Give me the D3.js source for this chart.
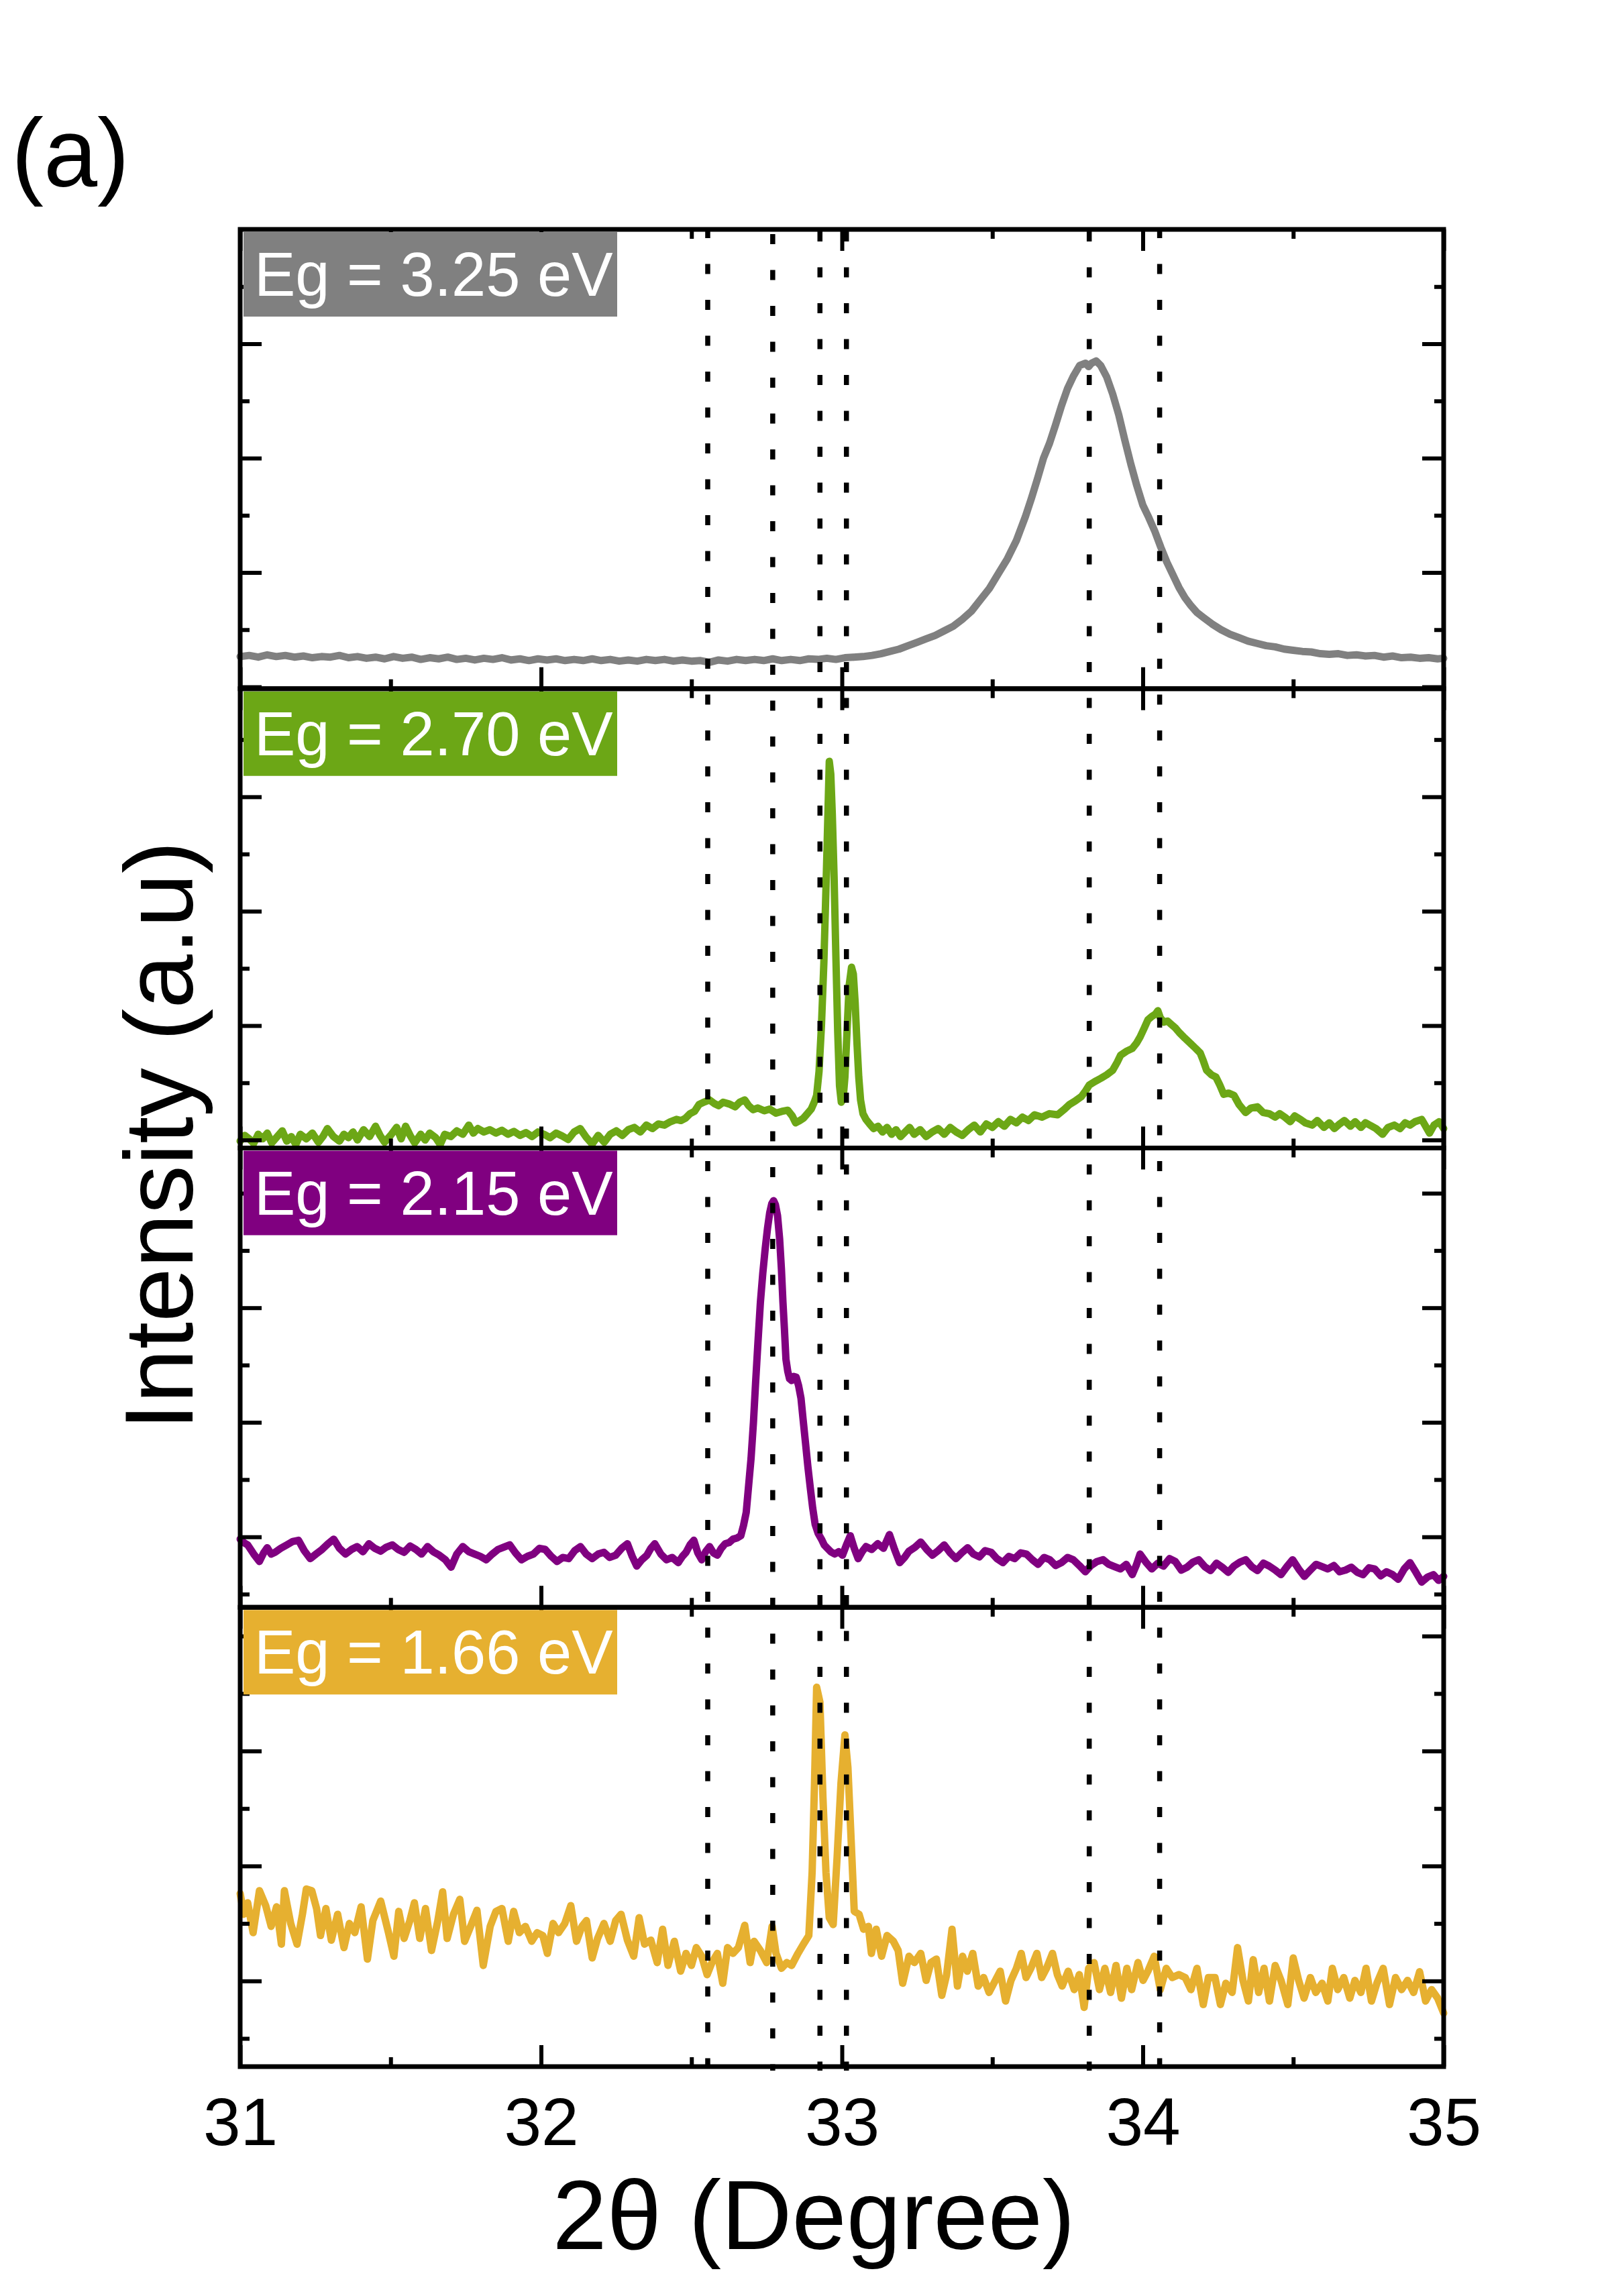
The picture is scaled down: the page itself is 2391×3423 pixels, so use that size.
<!DOCTYPE html>
<html>
<head>
<meta charset="utf-8">
<script src="https://cdn.jsdelivr.net/npm/d3@7"></script>
<style>
  body { margin: 0; background: #fff; }
</style>
</head>
<body>
<div id="chart"></div>
<script>
const W = 2391;
const H = 3423;
const plotLeft = 358, plotRight = 2152, plotTop = 342, plotBottom = 3081;

// panel labels and colours (top to bottom)
const labels = ['Eg = 3.25 eV', 'Eg = 2.70 eV', 'Eg = 2.15 eV', 'Eg = 1.66 eV'];
const colors = ['#808080', '#6ca716', '#800080', '#e6b030'];

// x axis
const xDomain = [31, 35];
const xLabels = [31, 32, 33, 34, 35];
const xMinor = [31.5, 32.5, 33.5, 34.5];

// reference peak positions (dotted lines), 2theta in degree
const refPeaks = [32.554, 32.770, 32.927, 33.015, 33.822, 34.056];

// intensity range of each panel (a.u.)
const yDomains = [[-0.032, 8.0], [-0.14, 7.89], [-1.23, 6.79], [-1.49, 6.5]];

// scans: [2theta, intensity a.u.]
const scan325 = [[31.00,0.53],[31.03,0.55],[31.06,0.52],[31.09,0.56],[31.12,0.53],[31.15,0.55],[31.18,0.52],[31.21,0.54],[31.24,0.51],[31.27,0.53],[31.30,0.52],[31.33,0.55],[31.36,0.51],[31.39,0.53],[31.42,0.50],[31.45,0.52],[31.48,0.49],[31.51,0.53],[31.54,0.50],[31.57,0.52],[31.60,0.48],[31.63,0.51],[31.66,0.49],[31.69,0.52],[31.72,0.48],[31.75,0.50],[31.78,0.47],[31.81,0.50],[31.84,0.48],[31.87,0.51],[31.90,0.47],[31.93,0.49],[31.96,0.46],[31.99,0.49],[32.02,0.47],[32.05,0.49],[32.08,0.46],[32.11,0.48],[32.14,0.46],[32.17,0.49],[32.20,0.46],[32.23,0.48],[32.26,0.45],[32.29,0.47],[32.32,0.45],[32.35,0.48],[32.38,0.46],[32.41,0.48],[32.44,0.45],[32.47,0.47],[32.50,0.45],[32.53,0.46],[32.56,0.43],[32.59,0.47],[32.62,0.45],[32.65,0.48],[32.68,0.46],[32.71,0.48],[32.74,0.46],[32.77,0.49],[32.80,0.46],[32.83,0.48],[32.86,0.46],[32.89,0.49],[32.92,0.48],[32.95,0.50],[32.98,0.48],[33.01,0.51],[33.04,0.52],[33.07,0.53],[33.10,0.55],[33.13,0.58],[33.16,0.62],[33.19,0.66],[33.22,0.72],[33.25,0.78],[33.28,0.84],[33.31,0.90],[33.34,0.98],[33.37,1.06],[33.40,1.18],[33.43,1.32],[33.46,1.52],[33.49,1.72],[33.52,1.98],[33.55,2.24],[33.58,2.56],[33.61,2.98],[33.63,3.30],[33.65,3.64],[33.67,4.00],[33.69,4.26],[33.71,4.58],[33.73,4.92],[33.75,5.22],[33.77,5.44],[33.79,5.62],[33.81,5.66],[33.82,5.60],[33.83,5.66],[33.845,5.70],[33.86,5.62],[33.88,5.42],[33.90,5.12],[33.92,4.76],[33.94,4.32],[33.96,3.90],[33.98,3.52],[34.00,3.18],[34.02,2.96],[34.04,2.72],[34.06,2.44],[34.08,2.18],[34.10,1.96],[34.12,1.74],[34.14,1.56],[34.16,1.42],[34.18,1.30],[34.20,1.22],[34.23,1.10],[34.26,1.00],[34.29,0.92],[34.32,0.86],[34.35,0.80],[34.38,0.76],[34.41,0.72],[34.44,0.70],[34.47,0.66],[34.50,0.64],[34.53,0.62],[34.56,0.61],[34.59,0.58],[34.62,0.57],[34.65,0.58],[34.68,0.55],[34.71,0.56],[34.74,0.54],[34.77,0.55],[34.80,0.52],[34.83,0.54],[34.86,0.51],[34.89,0.52],[34.92,0.50],[34.95,0.51],[34.98,0.49],[35.00,0.50]];

const scan270 = [[31.000,-0.02],[31.015,0.08],[31.030,0.02],[31.045,-0.06],[31.060,0.10],[31.075,0.02],[31.090,0.12],[31.105,-0.05],[31.120,0.04],[31.140,0.16],[31.155,-0.02],[31.170,0.06],[31.185,-0.08],[31.200,0.10],[31.220,0.02],[31.240,0.12],[31.260,-0.04],[31.275,0.06],[31.290,0.20],[31.310,0.06],[31.330,-0.02],[31.345,0.10],[31.360,0.04],[31.375,0.14],[31.390,0.00],[31.410,0.18],[31.430,0.06],[31.450,0.24],[31.465,0.08],[31.480,-0.04],[31.500,0.08],[31.520,0.22],[31.535,0.02],[31.550,0.24],[31.565,0.08],[31.580,-0.05],[31.600,0.10],[31.615,0.00],[31.630,0.12],[31.650,0.04],[31.665,-0.08],[31.680,0.10],[31.700,0.06],[31.720,0.16],[31.740,0.10],[31.760,0.26],[31.775,0.12],[31.790,0.20],[31.810,0.14],[31.830,0.18],[31.850,0.12],[31.870,0.17],[31.890,0.10],[31.910,0.15],[31.930,0.08],[31.950,0.13],[31.970,0.06],[31.990,0.14],[32.010,0.10],[32.030,0.04],[32.050,0.12],[32.070,0.07],[32.090,0.01],[32.110,0.14],[32.130,0.20],[32.150,0.05],[32.170,-0.07],[32.190,0.08],[32.210,-0.04],[32.230,0.10],[32.250,0.16],[32.270,0.08],[32.290,0.18],[32.310,0.22],[32.330,0.14],[32.350,0.26],[32.370,0.20],[32.390,0.28],[32.410,0.26],[32.430,0.32],[32.450,0.36],[32.465,0.34],[32.480,0.38],[32.495,0.46],[32.510,0.50],[32.525,0.62],[32.540,0.66],[32.560,0.70],[32.575,0.64],[32.590,0.60],[32.605,0.66],[32.625,0.63],[32.645,0.58],[32.660,0.66],[32.677,0.70],[32.690,0.60],[32.705,0.53],[32.720,0.56],[32.742,0.51],[32.760,0.54],[32.781,0.47],[32.800,0.50],[32.820,0.52],[32.835,0.42],[32.846,0.30],[32.860,0.34],[32.872,0.38],[32.885,0.46],[32.898,0.54],[32.908,0.66],[32.916,0.78],[32.924,1.20],[32.932,2.00],[32.940,3.10],[32.947,4.40],[32.953,5.60],[32.958,6.62],[32.963,6.40],[32.968,5.70],[32.974,4.60],[32.980,3.20],[32.986,1.90],[32.992,0.95],[32.998,0.66],[33.004,0.72],[33.010,1.10],[33.017,1.90],[33.024,2.70],[33.032,3.02],[33.038,2.90],[33.044,2.40],[33.050,1.70],[33.056,1.10],[33.062,0.70],[33.070,0.46],[33.080,0.36],[33.092,0.28],[33.105,0.20],[33.120,0.24],[33.135,0.14],[33.150,0.22],[33.165,0.10],[33.180,0.18],[33.195,0.06],[33.210,0.14],[33.225,0.22],[33.240,0.10],[33.260,0.18],[33.280,0.06],[33.300,0.14],[33.320,0.20],[33.340,0.10],[33.360,0.22],[33.380,0.14],[33.400,0.08],[33.420,0.18],[33.440,0.26],[33.460,0.14],[33.480,0.28],[33.500,0.22],[33.520,0.32],[33.540,0.24],[33.560,0.36],[33.580,0.30],[33.600,0.40],[33.620,0.34],[33.640,0.44],[33.665,0.40],[33.690,0.46],[33.717,0.44],[33.740,0.54],[33.756,0.62],[33.775,0.68],[33.796,0.76],[33.810,0.86],[33.822,0.96],[33.840,1.02],[33.861,1.08],[33.880,1.14],[33.900,1.22],[33.915,1.36],[33.926,1.48],[33.945,1.55],[33.965,1.60],[33.980,1.70],[33.991,1.80],[34.005,1.96],[34.017,2.10],[34.030,2.16],[34.042,2.20],[34.050,2.26],[34.058,2.14],[34.069,2.06],[34.082,2.08],[34.095,2.02],[34.108,1.96],[34.121,1.88],[34.140,1.78],[34.160,1.68],[34.176,1.60],[34.191,1.52],[34.200,1.40],[34.212,1.22],[34.228,1.14],[34.243,1.10],[34.256,0.96],[34.269,0.80],[34.285,0.82],[34.303,0.78],[34.320,0.62],[34.342,0.48],[34.360,0.56],[34.381,0.58],[34.400,0.48],[34.420,0.46],[34.440,0.40],[34.455,0.46],[34.472,0.40],[34.490,0.32],[34.505,0.42],[34.524,0.36],[34.540,0.30],[34.563,0.26],[34.580,0.34],[34.602,0.22],[34.620,0.30],[34.637,0.20],[34.654,0.28],[34.670,0.34],[34.690,0.24],[34.706,0.32],[34.725,0.22],[34.740,0.30],[34.758,0.25],[34.775,0.20],[34.797,0.10],[34.815,0.22],[34.836,0.26],[34.855,0.20],[34.872,0.30],[34.888,0.26],[34.905,0.32],[34.927,0.36],[34.940,0.24],[34.953,0.12],[34.968,0.26],[34.985,0.32],[35.000,0.20]];

const scan215 = [[31.000,-0.04],[31.012,-0.10],[31.025,-0.14],[31.045,-0.30],[31.064,-0.43],[31.078,-0.28],[31.090,-0.19],[31.103,-0.30],[31.116,-0.27],[31.135,-0.20],[31.155,-0.14],[31.175,-0.08],[31.194,-0.06],[31.213,-0.24],[31.233,-0.38],[31.252,-0.30],[31.272,-0.22],[31.292,-0.12],[31.311,-0.04],[31.330,-0.20],[31.350,-0.30],[31.370,-0.22],[31.389,-0.17],[31.408,-0.26],[31.428,-0.12],[31.447,-0.20],[31.467,-0.25],[31.486,-0.18],[31.506,-0.14],[31.525,-0.22],[31.545,-0.27],[31.565,-0.16],[31.584,-0.22],[31.603,-0.30],[31.623,-0.17],[31.642,-0.26],[31.662,-0.32],[31.682,-0.40],[31.701,-0.53],[31.720,-0.30],[31.740,-0.17],[31.760,-0.26],[31.779,-0.30],[31.798,-0.34],[31.818,-0.40],[31.838,-0.30],[31.857,-0.22],[31.876,-0.18],[31.896,-0.14],[31.915,-0.28],[31.935,-0.40],[31.955,-0.34],[31.975,-0.30],[31.995,-0.20],[32.014,-0.22],[32.034,-0.34],[32.053,-0.43],[32.072,-0.36],[32.092,-0.38],[32.112,-0.24],[32.131,-0.17],[32.150,-0.30],[32.170,-0.38],[32.190,-0.30],[32.209,-0.27],[32.228,-0.36],[32.248,-0.32],[32.268,-0.20],[32.287,-0.12],[32.303,-0.34],[32.318,-0.51],[32.335,-0.40],[32.352,-0.32],[32.365,-0.20],[32.378,-0.12],[32.398,-0.30],[32.417,-0.40],[32.436,-0.36],[32.456,-0.45],[32.470,-0.34],[32.482,-0.27],[32.495,-0.14],[32.508,-0.06],[32.521,-0.28],[32.534,-0.40],[32.547,-0.26],[32.560,-0.17],[32.573,-0.28],[32.586,-0.32],[32.599,-0.20],[32.612,-0.12],[32.625,-0.10],[32.638,-0.04],[32.651,-0.02],[32.664,0.02],[32.673,0.20],[32.682,0.43],[32.690,0.90],[32.698,1.37],[32.706,2.00],[32.713,2.68],[32.721,3.40],[32.729,4.09],[32.737,4.60],[32.745,5.03],[32.753,5.40],[32.760,5.66],[32.767,5.82],[32.773,5.87],[32.779,5.80],[32.786,5.61],[32.793,5.20],[32.799,4.67],[32.804,4.10],[32.809,3.62],[32.814,3.10],[32.820,2.89],[32.826,2.76],[32.833,2.73],[32.840,2.80],[32.848,2.79],[32.856,2.64],[32.864,2.42],[32.871,2.05],[32.879,1.64],[32.887,1.22],[32.895,0.85],[32.903,0.50],[32.911,0.22],[32.921,0.06],[32.932,-0.04],[32.941,-0.14],[32.950,-0.19],[32.963,-0.26],[32.976,-0.30],[32.989,-0.26],[33.002,-0.32],[33.015,-0.14],[33.028,0.02],[33.041,-0.20],[33.054,-0.38],[33.067,-0.26],[33.080,-0.17],[33.099,-0.22],[33.119,-0.12],[33.138,-0.20],[33.158,0.04],[33.175,-0.22],[33.192,-0.45],[33.208,-0.36],[33.223,-0.25],[33.243,-0.18],[33.262,-0.09],[33.282,-0.22],[33.301,-0.32],[33.320,-0.24],[33.340,-0.14],[33.360,-0.28],[33.379,-0.38],[33.398,-0.28],[33.418,-0.19],[33.437,-0.30],[33.457,-0.35],[33.476,-0.24],[33.496,-0.27],[33.515,-0.38],[33.535,-0.45],[33.555,-0.34],[33.574,-0.38],[33.594,-0.28],[33.613,-0.30],[33.633,-0.40],[33.652,-0.48],[33.672,-0.36],[33.691,-0.40],[33.710,-0.50],[33.730,-0.45],[33.750,-0.36],[33.769,-0.40],[33.789,-0.50],[33.809,-0.61],[33.828,-0.50],[33.848,-0.43],[33.868,-0.40],[33.887,-0.48],[33.906,-0.52],[33.926,-0.56],[33.945,-0.48],[33.965,-0.66],[33.978,-0.50],[33.991,-0.30],[34.010,-0.44],[34.030,-0.56],[34.050,-0.46],[34.069,-0.51],[34.089,-0.38],[34.108,-0.43],[34.128,-0.58],[34.147,-0.53],[34.167,-0.44],[34.186,-0.40],[34.206,-0.52],[34.225,-0.59],[34.245,-0.46],[34.264,-0.53],[34.284,-0.62],[34.303,-0.51],[34.323,-0.44],[34.342,-0.40],[34.362,-0.52],[34.381,-0.59],[34.401,-0.46],[34.420,-0.51],[34.440,-0.58],[34.459,-0.66],[34.479,-0.52],[34.498,-0.40],[34.518,-0.56],[34.537,-0.69],[34.557,-0.58],[34.576,-0.48],[34.596,-0.52],[34.615,-0.56],[34.635,-0.50],[34.654,-0.61],[34.674,-0.58],[34.693,-0.53],[34.713,-0.62],[34.732,-0.66],[34.752,-0.54],[34.771,-0.56],[34.791,-0.68],[34.810,-0.61],[34.830,-0.66],[34.849,-0.74],[34.869,-0.56],[34.888,-0.45],[34.908,-0.62],[34.927,-0.79],[34.947,-0.70],[34.966,-0.66],[34.983,-0.76],[35.000,-0.69]];

const scan166 = [[31.000,1.52],[31.012,1.16],[31.025,1.36],[31.043,0.84],[31.064,1.57],[31.085,1.31],[31.103,0.95],[31.121,1.29],[31.137,0.64],[31.147,1.57],[31.168,1.00],[31.189,0.64],[31.207,1.16],[31.220,1.60],[31.238,1.57],[31.254,1.26],[31.267,0.79],[31.285,1.26],[31.303,0.71],[31.324,1.16],[31.345,0.58],[31.363,1.00],[31.381,0.84],[31.402,1.29],[31.423,0.38],[31.441,1.05],[31.467,1.39],[31.493,0.84],[31.511,0.43],[31.527,1.21],[31.545,0.74],[31.564,1.05],[31.579,1.36],[31.597,0.74],[31.616,1.26],[31.636,0.53],[31.657,1.05],[31.673,1.55],[31.688,0.74],[31.709,1.16],[31.730,1.42],[31.746,0.69],[31.766,0.95],[31.787,1.23],[31.808,0.27],[31.831,0.95],[31.850,1.21],[31.870,1.26],[31.891,0.69],[31.909,1.21],[31.928,0.84],[31.948,0.95],[31.969,0.69],[31.987,0.84],[32.006,0.79],[32.021,0.48],[32.040,1.00],[32.058,0.84],[32.079,1.00],[32.099,1.31],[32.118,0.69],[32.136,0.95],[32.151,1.05],[32.170,0.40],[32.188,0.74],[32.209,1.00],[32.230,0.69],[32.248,1.05],[32.266,1.16],[32.287,0.71],[32.308,0.43],[32.326,1.10],[32.344,0.64],[32.365,0.71],[32.386,0.32],[32.404,0.90],[32.422,0.27],[32.443,0.69],[32.464,0.17],[32.482,0.48],[32.500,0.27],[32.516,0.58],[32.534,0.43],[32.552,0.11],[32.568,0.32],[32.586,0.48],[32.604,-0.04],[32.620,0.58],[32.638,0.48],[32.656,0.58],[32.677,0.97],[32.695,0.32],[32.708,0.69],[32.729,0.53],[32.750,0.32],[32.768,0.95],[32.781,0.48],[32.799,0.22],[32.817,0.32],[32.833,0.27],[32.854,0.48],[32.872,0.64],[32.890,0.79],[32.901,1.89],[32.909,3.45],[32.916,5.11],[32.927,4.85],[32.937,3.19],[32.947,1.89],[32.958,1.10],[32.971,0.98],[32.984,2.15],[32.997,3.45],[33.010,4.28],[33.020,3.71],[33.031,2.41],[33.041,1.21],[33.057,1.16],[33.072,0.90],[33.088,0.95],[33.098,0.48],[33.114,0.90],[33.132,0.43],[33.150,0.79],[33.171,0.69],[33.187,0.53],[33.202,-0.04],[33.223,0.43],[33.241,0.32],[33.262,0.48],[33.280,0.01],[33.296,0.32],[33.314,0.38],[33.332,-0.25],[33.348,0.11],[33.366,0.90],[33.384,-0.09],[33.401,0.43],[33.417,0.17],[33.435,0.48],[33.453,-0.09],[33.471,0.06],[33.489,-0.20],[33.505,-0.04],[33.526,0.17],[33.544,-0.35],[33.562,0.01],[33.580,0.22],[33.596,0.48],[33.612,0.06],[33.628,0.22],[33.648,0.48],[33.664,0.06],[33.680,0.22],[33.700,0.48],[33.716,0.11],[33.732,-0.09],[33.752,0.17],[33.772,-0.15],[33.789,0.11],[33.805,-0.46],[33.820,0.22],[33.838,0.32],[33.856,-0.15],[33.874,0.22],[33.893,-0.20],[33.911,0.27],[33.929,-0.30],[33.947,0.22],[33.963,-0.15],[33.984,0.32],[34.001,0.01],[34.017,0.17],[34.038,0.43],[34.058,-0.15],[34.078,0.22],[34.098,0.06],[34.120,0.11],[34.141,0.06],[34.160,-0.15],[34.180,0.22],[34.201,-0.41],[34.218,0.06],[34.240,0.06],[34.258,-0.41],[34.276,-0.04],[34.297,-0.20],[34.315,0.58],[34.333,0.01],[34.351,-0.35],[34.367,0.37],[34.385,-0.20],[34.403,0.22],[34.421,-0.35],[34.440,0.27],[34.460,0.00],[34.482,-0.41],[34.500,0.40],[34.518,0.01],[34.536,-0.30],[34.557,0.06],[34.575,-0.20],[34.596,-0.04],[34.615,-0.35],[34.630,0.22],[34.648,-0.15],[34.668,0.06],[34.688,-0.30],[34.705,0.01],[34.725,-0.20],[34.742,0.22],[34.760,-0.35],[34.778,-0.04],[34.799,0.22],[34.820,-0.41],[34.840,0.06],[34.860,-0.15],[34.880,0.01],[34.900,-0.20],[34.920,0.16],[34.940,-0.35],[34.960,-0.15],[34.980,-0.30],[35.000,-0.56]];

const scans = [scan325, scan270, scan215, scan166];

const svg = d3.select('#chart').append('svg')
    .attr('width', W)
    .attr('height', H)
    .attr('viewBox', `0 0 ${W} ${H}`)
    .style('font-family', '"Liberation Sans", Arial, Helvetica, sans-serif');

const x = d3.scaleLinear().domain(xDomain).range([plotLeft, plotRight]);
const panelH = (plotBottom - plotTop) / scans.length;

// small helper: inward ticks, no domain line
function addAxis(g, axis, transform) {
    const a = g.append('g').attr('transform', transform).call(axis);
    a.select('.domain').remove();
    a.selectAll('.tick line').attr('stroke', '#000').attr('stroke-width', 6);
    return a;
}

const panelsG = svg.append('g');
const linesG = svg.append('g');
const framesG = svg.append('g');

scans.forEach((scan, i) => {
    const y0 = plotTop + i * panelH;
    const y1 = y0 + panelH;
    const y = d3.scaleLinear().domain(yDomains[i]).range([y1, y0]);
    const g = panelsG.append('g').attr('class', 'panel');

    /* data line */
    g.append('path')
        .datum(scan)
        .attr('fill', 'none')
        .attr('stroke', colors[i])
        .attr('stroke-width', 11)
        .attr('stroke-linejoin', 'round')
        .attr('stroke-linecap', 'round')
        .attr('d', d3.line().x(d => x(d[0])).y(d => y(d[1])));

    /* y ticks, left and right */
    const lo = yDomains[i][0], hi = yDomains[i][1];
    const yt = d3.range(Math.ceil(lo), Math.floor(hi) + 1).filter(v => y(v) > y0 + 4);
    const yMaj = yt.filter(v => v % 2 === 0);
    const yMin = yt.filter(v => v % 2 !== 0);
    addAxis(g, d3.axisLeft(y).tickValues(yMaj).tickSize(-32).tickFormat(''), `translate(${plotLeft},0)`);
    addAxis(g, d3.axisLeft(y).tickValues(yMin).tickSize(-14).tickFormat(''), `translate(${plotLeft},0)`);
    addAxis(g, d3.axisRight(y).tickValues(yMaj).tickSize(-32).tickFormat(''), `translate(${plotRight},0)`);
    addAxis(g, d3.axisRight(y).tickValues(yMin).tickSize(-14).tickFormat(''), `translate(${plotRight},0)`);

    /* x ticks, top and bottom of every panel */
    addAxis(g, d3.axisTop(x).tickValues(xLabels).tickSize(-32).tickFormat(''), `translate(0,${y0})`);
    addAxis(g, d3.axisTop(x).tickValues(xMinor).tickSize(-14).tickFormat(''), `translate(0,${y0})`);
    addAxis(g, d3.axisBottom(x).tickValues(xMinor).tickSize(-14).tickFormat(''), `translate(0,${y1})`);
    const bx = addAxis(g, d3.axisBottom(x).tickValues(xLabels).tickSize(-32).tickPadding(46)
        .tickFormat(i === scans.length - 1 ? d3.format('d') : ''), `translate(0,${y1})`);
    bx.attr('font-size', 100).attr('font-family', null);
    bx.selectAll('text').attr('fill', '#000');

    /* sample label */
    g.append('rect')
        .attr('x', 363)
        .attr('y', y0 + 4)
        .attr('width', 557)
        .attr('height', 126)
        .attr('fill', colors[i]);
    g.append('text')
        .attr('x', 379)
        .attr('y', y0 + 99)
        .attr('font-size', 92)
        .attr('fill', '#fff')
        .text(labels[i]);

    framesG.append('rect')
        .attr('x', plotLeft)
        .attr('y', y0)
        .attr('width', plotRight - plotLeft)
        .attr('height', panelH)
        .attr('fill', 'none')
        .attr('stroke', '#000')
        .attr('stroke-width', 7);
});

/* dotted reference lines across all panels */
const dashShift = [2, -7, -3, -3, -3, 2];
linesG.selectAll('line')
    .data(refPeaks)
    .enter()
    .append('line')
    .attr('x1', d => x(d))
    .attr('x2', d => x(d))
    .attr('y1', plotTop)
    .attr('y2', plotBottom + 6)
    .attr('stroke', '#000')
    .attr('stroke-width', 7.5)
    .attr('stroke-dasharray', '15 38.5')
    .attr('stroke-dashoffset', (d, i) => dashShift[i]);

/* titles */
svg.append('text')
    .attr('x', 1213)
    .attr('y', 3353)
    .attr('text-anchor', 'middle')
    .attr('font-size', 146)
    .text('2θ (Degree)');

svg.append('text')
    .attr('transform', 'translate(287,1693) rotate(-90)')
    .attr('text-anchor', 'middle')
    .attr('font-size', 145)
    .text('Intensity (a.u)');

svg.append('text')
    .attr('x', 17)
    .attr('y', 278)
    .attr('font-size', 144)
    .text('(a)');
</script>
</body>
</html>
